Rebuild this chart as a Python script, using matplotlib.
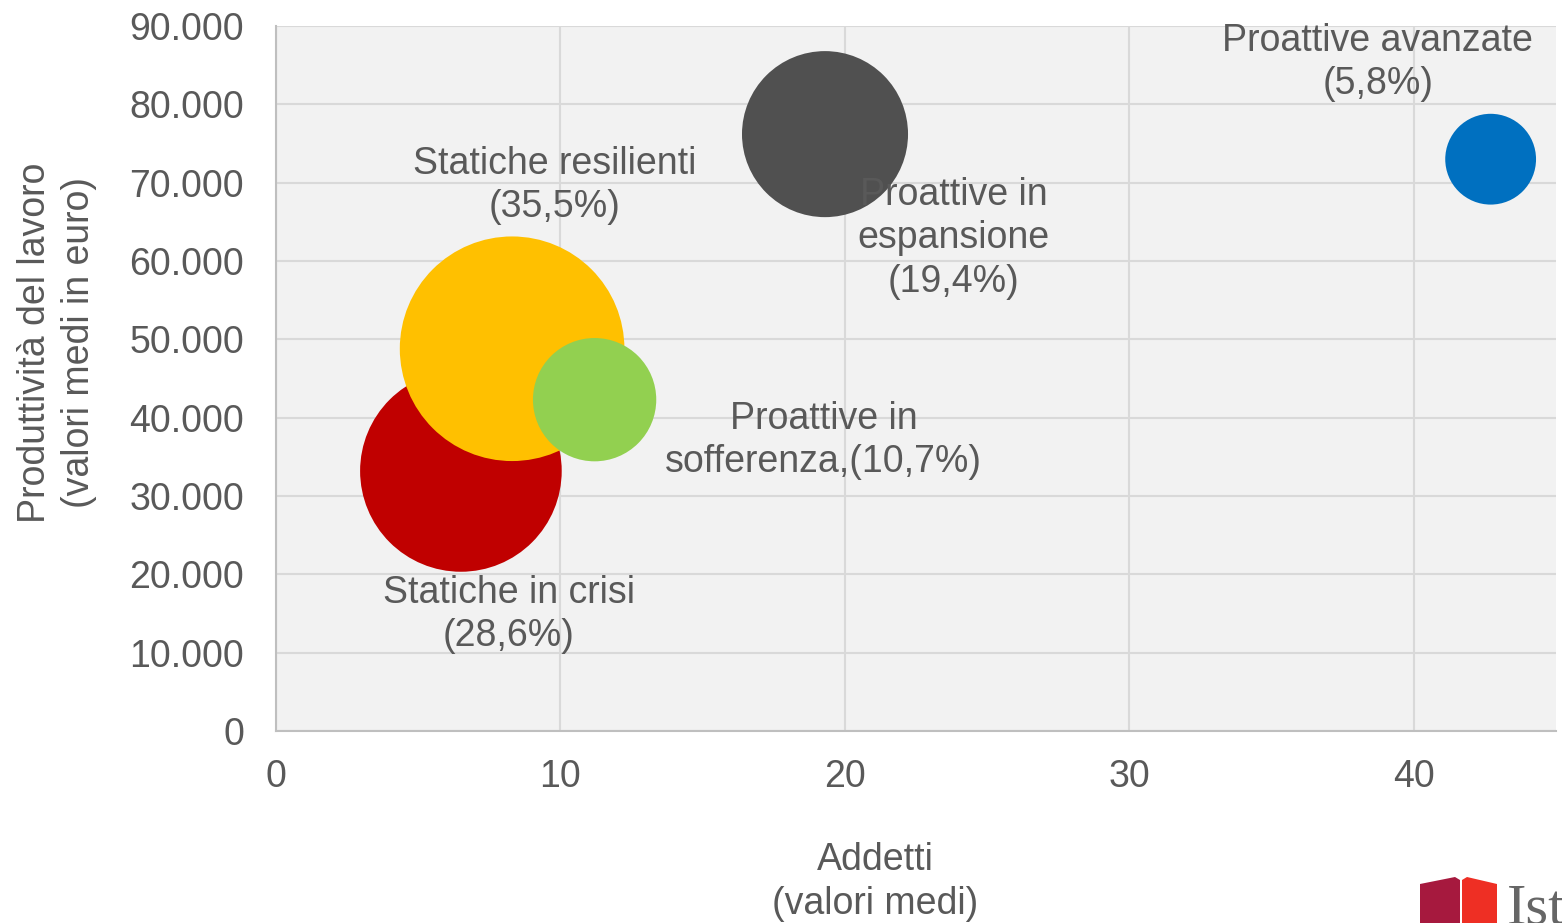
import matplotlib
matplotlib.use("Agg")
import matplotlib.pyplot as plt
from matplotlib.patches import Polygon

plt.rcParams['font.family'] = ['Liberation Sans', 'DejaVu Sans']

# Cluster data: mean employees, mean labour productivity, share of firms (%)
groups = ["Proattive in espansione", "Proattive avanzate", "Statiche in crisi",
          "Statiche resilienti", "Proattive in sofferenza"]
addetti = [19.3, 42.7, 6.5, 8.3, 11.2]
produttivita = [76200, 73000, 33200, 48800, 42300]
quota = [19.4, 5.8, 28.6, 35.5, 10.7]
colors = ["#505050", "#0070c0", "#c00000", "#ffc000", "#92d050"]

labels = ["Proattive in\nespansione\n(19,4%)", "Proattive avanzate\n(5,8%)",
          "Statiche in crisi\n(28,6%)", "Statiche resilienti\n(35,5%)",
          "Proattive in\nsofferenza,(10,7%)"]
label_x = [23.83, 38.73, 8.19, 9.81, 19.26]
label_y = [62900, 85300, 14900, 69600, 37100]

x_ticks = [0, 10, 20, 30, 40]
y_ticks = list(range(0, 90001, 10000))
y_ticklabels = ["0" if v == 0 else f"{v:,}".replace(",", ".") for v in y_ticks]

txt = "#595959"
fs = 27
ls = 1.26
fig = plt.figure(figsize=(15.62, 9.23), dpi=100)
ax = fig.add_axes([0.1767, 0.208, 0.8195, 0.7638])
ax.set_facecolor("#f2f2f2")

ax.set_xlim(0, 45)
ax.set_ylim(0, 90000)
ax.set_xticks(x_ticks)
ax.set_yticks(y_ticks)
ax.set_yticklabels(y_ticklabels)
ax.grid(True, color="#d9d9d9", linewidth=1.5)
ax.set_axisbelow(True)
for s in ["top", "right"]:
    ax.spines[s].set_visible(False)
for s in ["left", "bottom"]:
    ax.spines[s].set_color("#bfbfbf")
    ax.spines[s].set_linewidth(1.5)
ax.tick_params(length=0, labelsize=fs, labelcolor=txt)
ax.tick_params(axis="y", pad=23)
ax.tick_params(axis="x", pad=20)

ax.scatter(addetti, produttivita, s=[736.7 * q for q in quota], c=colors,
           linewidths=0, zorder=3)

for l, x, y in zip(labels, label_x, label_y):
    ax.text(x, y, l, ha="center", va="center", fontsize=fs, color=txt,
            linespacing=ls, zorder=4)

W, H = 1562, 923
fig.text(875 / W, 1 - 882 / H, "Addetti\n(valori medi)", fontsize=fs, color=txt,
         ha="center", va="center", linespacing=ls)
fig.text(57 / W, 1 - 343 / H, "Produttività del lavoro\n(valori medi in euro)",
         fontsize=fs, color=txt, ha="center", va="center", rotation=90,
         linespacing=ls, rotation_mode="anchor")

# Istat logo, bottom right corner
def px(pts):
    return [(x / W, 1 - y / H) for x, y in pts]
fig.patches.append(Polygon(px([(1420, 884), (1455, 877), (1460, 880), (1460, 930), (1420, 930)]),
                           closed=True, facecolor="#a6193e", edgecolor="none",
                           transform=fig.transFigure, figure=fig))
fig.patches.append(Polygon(px([(1462, 880), (1467, 877), (1497, 884), (1497, 930), (1462, 930)]),
                           closed=True, facecolor="#ee2f24", edgecolor="none",
                           transform=fig.transFigure, figure=fig))
fig.text(1507 / W, 1 - 924 / H, "Istat", fontsize=42, color="#666666",
         family=["Liberation Serif", "DejaVu Serif"], ha="left", va="baseline")

fig.savefig("out.png", dpi=100, facecolor="white")
